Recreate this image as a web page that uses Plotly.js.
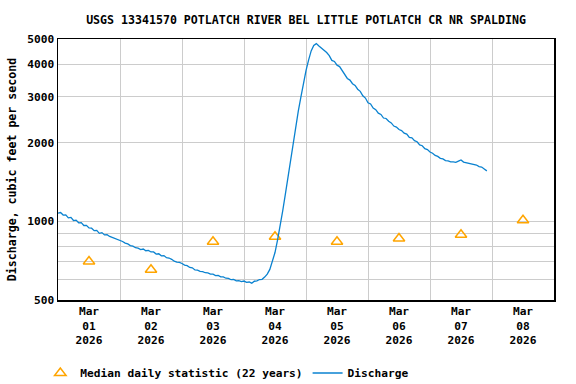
<!DOCTYPE html>
<html>
<head>
<meta charset="utf-8">
<script src="https://cdn.plot.ly/plotly-3.0.1.min.js"></script>
<style>html,body{margin:0;padding:0;background:#fff;}#chart{width:576px;height:384px;}</style>
</head>
<body>
<div id="chart"></div>
<script>
// ---- Data ----
const chartTitle = "USGS 13341570 POTLATCH RIVER BEL LITTLE POTLATCH CR NR SPALDING";
const yAxisTitle = "Discharge, cubic feet per second";
const provisionalNote = "---- Provisional Data Subject to Revision ----";

// Discharge, one reading every hour from 2026-03-01 00:00
const dischargeStart = "2026-03-01T00:00:00Z";
const dischargeStepHours = 1;
const dischargeMar01 = [1075, 1082, 1058, 1060, 1032, 1036, 1008, 1012, 988, 990, 965, 966, 944, 942, 922, 924, 900, 906, 888, 890, 876, 868, 864, 856];
const dischargeMar02 = [847, 838, 826, 820, 808, 804, 793, 790, 780, 784, 772, 774, 764, 764, 750, 752, 738, 740, 726, 724, 716, 704, 698, 697];
const dischargeMar03 = [690, 680, 677, 666, 664, 652, 651, 644, 642, 636, 635, 628, 628, 620, 621, 613, 613, 606, 605, 598, 599, 592, 593, 588];
const dischargeMar04 = [591, 584, 586, 580, 590, 592, 599, 600, 612, 628, 655, 700, 760, 850, 955, 1100, 1270, 1480, 1700, 1990, 2300, 2640, 2990, 3380];
const dischargeMar05 = [3780, 4150, 4500, 4720, 4800, 4700, 4610, 4560, 4440, 4320, 4140, 4100, 3970, 3920, 3780, 3680, 3530, 3480, 3370, 3320, 3210, 3150, 3030, 2970];
const dischargeMar06 = [2850, 2820, 2720, 2680, 2600, 2570, 2490, 2480, 2420, 2385, 2320, 2300, 2250, 2230, 2180, 2160, 2100, 2090, 2040, 2020, 1965, 1950, 1900, 1885];
const dischargeMar07 = [1845, 1825, 1790, 1775, 1745, 1735, 1710, 1705, 1690, 1692, 1685, 1702, 1720, 1688, 1680, 1668, 1665, 1648, 1645, 1622, 1615, 1588, 1562];

// Median daily statistic (22 years), at noon of each day
const medianDates = ["2026-03-01 12:00", "2026-03-02 12:00", "2026-03-03 12:00", "2026-03-04 12:00",
                     "2026-03-05 12:00", "2026-03-06 12:00", "2026-03-07 12:00", "2026-03-08 12:00"];
const medianCfs = [702, 653, 836, 873, 836, 860, 889, 1010];

// Axis ticks
const xTickVals = medianDates;
const xTickText = ["Mar<br>01<br>2026", "Mar<br>02<br>2026", "Mar<br>03<br>2026", "Mar<br>04<br>2026",
                   "Mar<br>05<br>2026", "Mar<br>06<br>2026", "Mar<br>07<br>2026", "Mar<br>08<br>2026"];
const yTickVals = [500, 600, 700, 800, 900, 1000, 2000, 3000, 4000, 5000];
const yTickText = ["500", "", "", "", "", "1000", "2000", "3000", "4000", "5000"];

// ---- Build ----
const dischargeCfs = [].concat(dischargeMar01, dischargeMar02, dischargeMar03, dischargeMar04,
                               dischargeMar05, dischargeMar06, dischargeMar07);
function pad(n) { return (n < 10 ? "0" : "") + n; }
const t0 = Date.parse(dischargeStart);
const dischargeDates = dischargeCfs.map((_, i) => {
  const d = new Date(t0 + i * dischargeStepHours * 3600000);
  return d.getUTCFullYear() + "-" + pad(d.getUTCMonth() + 1) + "-" + pad(d.getUTCDate()) + " " +
         pad(d.getUTCHours()) + ":" + pad(d.getUTCMinutes());
});

const FONT = "DejaVu Sans Mono, Liberation Mono, monospace";
const small = {family: FONT, size: 11.2, color: "#000", weight: "bold"};
const mid = {family: FONT, size: 11.6, color: "#000", weight: "bold"};
const grid = "#cccccc";

const traces = [
  {
    x: medianDates, y: medianCfs, type: "scatter", mode: "markers",
    name: "Median daily statistic (22 years)",
    marker: {symbol: "triangle-up-open", size: 10, color: "#ffa500", line: {width: 1.5, color: "#ffa500"}}
  },
  {
    x: dischargeDates, y: dischargeCfs, type: "scatter", mode: "lines",
    name: "Discharge",
    line: {color: "#0a82d0", width: 1.3}
  }
];

const layout = {
  width: 576, height: 384,
  margin: {l: 58, r: 22, t: 39, b: 84},
  paper_bgcolor: "#fff", plot_bgcolor: "#fff",
  font: small,
  title: {text: chartTitle, font: mid,
          x: 0.5, xref: "paper", y: 1 - 20 / 384, yref: "container", yanchor: "middle"},
  xaxis: {
    type: "date", range: ["2026-03-01 00:00", "2026-03-09 00:00"],
    tickmode: "array", tickvals: xTickVals, ticktext: xTickText,
    showgrid: false, ticks: "", tickfont: small,
    minor: {tickmode: "linear", tick0: "2026-03-01 00:00", dtick: 86400000, showgrid: true, gridcolor: grid, gridwidth: 1, ticks: ""},
    showline: true, mirror: true, linecolor: "#000", linewidth: 1.5, zeroline: false, fixedrange: true
  },
  yaxis: {
    type: "log", range: [Math.log10(500), Math.log10(5000)],
    tickmode: "array", tickvals: yTickVals, ticktext: yTickText,
    showgrid: true, gridcolor: grid, gridwidth: 1, ticks: "", tickfont: small,
    title: {text: yAxisTitle, font: mid, standoff: 8},
    showline: true, mirror: true, linecolor: "#000", linewidth: 1.5, zeroline: false, fixedrange: true
  },
  showlegend: true,
  legend: {
    orientation: "h", xref: "container", yref: "container",
    x: 0.07, xanchor: "left", y: (384 - 373) / 384, yanchor: "middle",
    font: small, bgcolor: "rgba(0,0,0,0)", borderwidth: 0, traceorder: "normal"
  },
  annotations: [{
    text: provisionalNote, showarrow: false,
    xref: "container", yref: "container", x: 298 / 576, y: (384 - 359) / 384,
    xanchor: "center", yanchor: "middle",
    font: {family: FONT, size: 11.2, color: "#ff0000", weight: "bold"}
  }]
};

Plotly.newPlot("chart", traces, layout, {staticPlot: true, displayModeBar: false});
</script>
</body>
</html>
